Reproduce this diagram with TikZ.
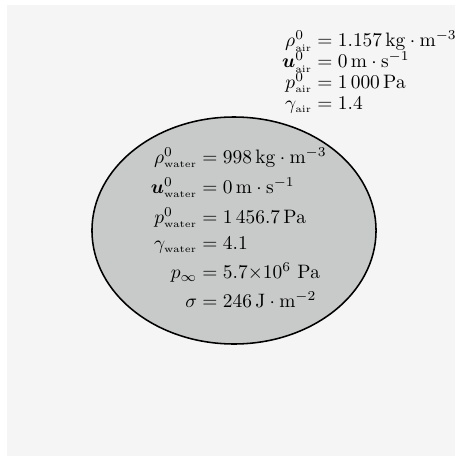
\documentclass[tikz,border=0pt]{standalone}
\usepackage{amsmath}
\usetikzlibrary{shapes.geometric}
\definecolor{bgc}{RGB}{245,245,245}
\definecolor{ellc}{RGB}{200,201,201}
\newcommand{\ssub}[1]{{\scriptscriptstyle\mathrm{#1}}}
\newcommand{\eqrow}[2]{\llap{$#1{}$}${}=#2$}
\begin{document}
\begin{tikzpicture}[x=0.515pt,y=-0.515pt,
  row/.style={anchor=base west,inner sep=0pt,outer sep=0pt,font=\fontsize{10}{12}\selectfont},
  drop/.style={ellipse,draw=black,fill=ellc,line width=0.8pt,inner sep=0pt,
    minimum width=146.3pt,minimum height=116.9pt}]
\path[fill=bgc] (7,5) rectangle (455,456);
\useasboundingbox (0,0) rectangle (463,456);
\node[drop] (water) at (234,230.5) {};
% air
\node[row] (a1) at (312,46.55) {\eqrow{\rho^0_{\ssub{air}}}{1.157\,\mathrm{kg}\cdot\mathrm{m}^{-3}}};
\node[row] (a2) at (312,67.55) {\eqrow{\boldsymbol{u}^0_{\ssub{air}}}{0\,\mathrm{m}\cdot\mathrm{s}^{-1}}};
\node[row] (a3) at (312,88.15) {\eqrow{p^0_{\ssub{air}}}{1\,000\,\mathrm{Pa}}};
\node[row] (a4) at (312,109.15) {\eqrow{\gamma_{\ssub{air}}}{1.4}};
% water
\node[row] (w1) at (197.05,163.15) {\eqrow{\rho^0_{\ssub{water}}}{998\,\mathrm{kg}\cdot\mathrm{m}^{-3}}};
\node[row] (w2) at (197.05,193.15) {\eqrow{\boldsymbol{u}^0_{\ssub{water}}}{0\,\mathrm{m}\cdot\mathrm{s}^{-1}}};
\node[row] (w3) at (197.05,223.15) {\eqrow{p^0_{\ssub{water}}}{1\,456.7\,\mathrm{Pa}}};
\node[row] (w4) at (197.05,249.85) {\eqrow{\gamma_{\ssub{water}}}{4.1}};
\node[row] (w5) at (197.05,278.85) {\eqrow{p_\infty}{5.7\mbox{×}10^6\ \mathrm{Pa}}};
\node[row] (w6) at (197.05,307.55) {\eqrow{\sigma}{246\,\mathrm{J}\cdot\mathrm{m}^{-2}}};
\end{tikzpicture}
\end{document}
